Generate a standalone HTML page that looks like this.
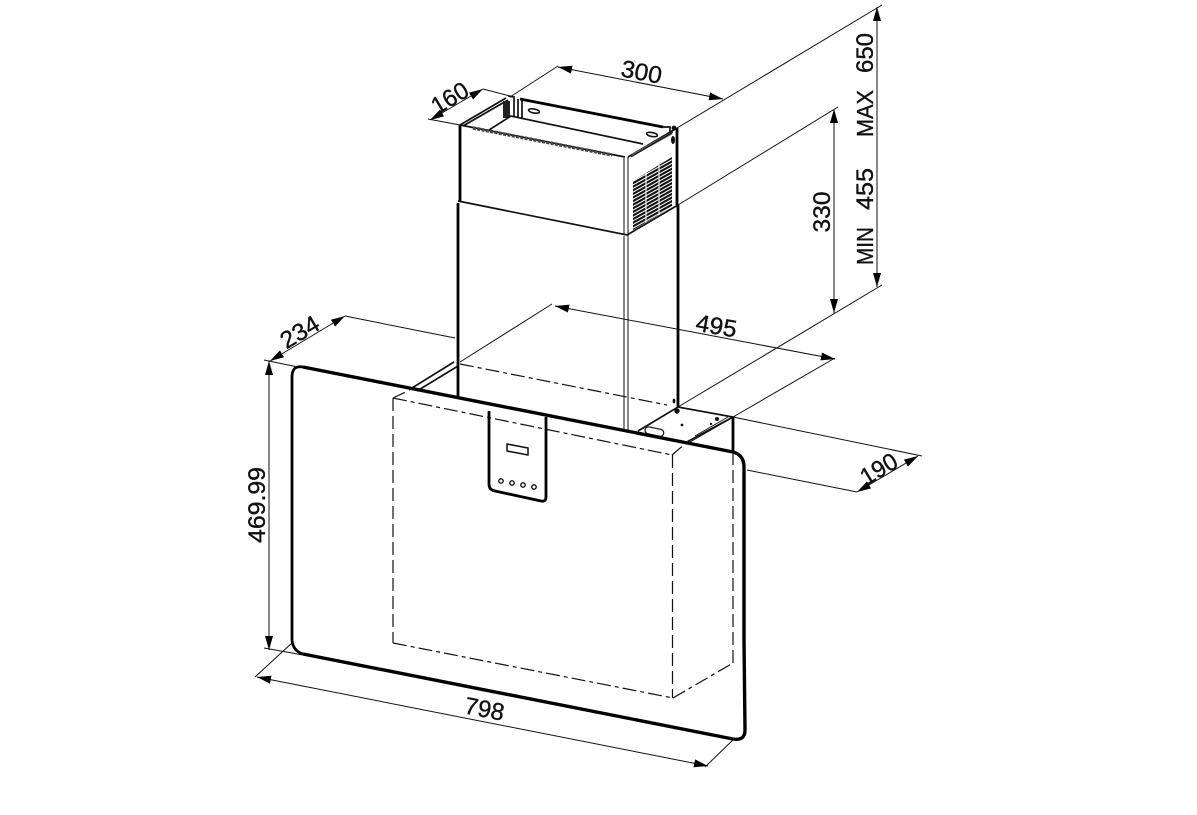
<!DOCTYPE html>
<html>
<head>
<meta charset="utf-8">
<style>
html,body{margin:0;padding:0;background:#fff;width:1197px;height:815px;overflow:hidden}
svg{display:block}
text{font-family:"Liberation Sans",sans-serif;font-size:24px;fill:#111;stroke:#111;stroke-width:.35;text-anchor:middle}
.t{stroke:#111;stroke-width:1;fill:none}
.m{stroke:#111;stroke-width:1.7;fill:none}
.b{stroke:#000;stroke-width:2.8;fill:none}
.k{stroke:#000;stroke-width:3.4;fill:none}
.d{stroke:#111;stroke-width:1.2;fill:none;stroke-dasharray:14 4 4 4}
.v{stroke:#111;stroke-width:1.2;fill:none;stroke-dasharray:13 5}
</style>
</head>
<body>
<svg width="1197" height="815" viewBox="0 0 1197 815" xmlns="http://www.w3.org/2000/svg">
<defs>
<marker id="a" viewBox="0 0 14 8" refX="14" refY="4" markerWidth="14" markerHeight="8" markerUnits="userSpaceOnUse" orient="auto-start-reverse"><path d="M0 0L14 4L0 8Z" fill="#000"/></marker>
<pattern id="h" width="40" height="3.6" patternUnits="userSpaceOnUse" patternTransform="skewY(-29)"><rect width="40" height="3.6" fill="#fff"/><rect width="40" height="2.4" fill="#111"/></pattern>
</defs>
<rect width="1197" height="815" fill="#fff"/>

<!-- upper chimney -->
<path class="b" d="M460 125V201"/>
<path class="m" d="M460 125L625 157"/>
<path class="m" d="M628 157L677 128"/>
<path class="b" d="M677 128V205"/>
<path class="t" d="M624 158V235M628 157V235"/>
<path class="m" d="M460 125L506 98M463 126L508 100"/>
<path class="m" d="M508 96L514 97V117"/>
<path d="M503 101H510V118H503Z" fill="#222"/>
<path class="b" d="M520 99L663 127"/>
<path class="m" d="M518 99V117M522 100V118"/>
<path class="m" d="M489 130L511 116L643 144"/>
<path stroke="#444" stroke-width="3.4" stroke-dasharray="3 1.4" fill="none" d="M473 128L612 155"/>
<path stroke="#555" stroke-width="2.6" fill="none" d="M632 155L672 133"/>
<path class="t" d="M631 157L673 132"/>
<path class="m" d="M663 127H670V133"/>
<circle cx="674" cy="128" r="2.4" fill="#111"/>
<ellipse cx="673" cy="140" rx="2" ry="4" fill="#111"/>
<ellipse cx="534" cy="111" rx="5.500" ry="2" transform="rotate(11 534 111)" fill="#fff" stroke="#111" stroke-width="1.600"/>
<ellipse cx="652" cy="134.500" rx="5.500" ry="2" transform="rotate(11 652 134.500)" fill="#fff" stroke="#111" stroke-width="1.600"/>
<path d="M633 181L672 157V207L633 230Z" fill="url(#h)"/>
<path stroke="#fff" stroke-width="1.100" fill="none" d="M646 172V223M659 165V215"/>

<!-- lower chimney -->
<path class="b" d="M458 203V398"/>
<path class="m" d="M458 201L627 235L678 205"/>
<path class="b" d="M678 205V408"/>
<path class="t" d="M624 236V430M628 235V431"/>

<!-- hidden dashed box -->
<path class="v" d="M393 398V643"/>
<path class="d" d="M393 398L672 455"/>
<path class="d" d="M393 643L673 698"/>
<path class="v" d="M672.500 455V698"/>
<path class="d" d="M673 698L733 663"/>
<path class="v" d="M733 452V663"/>
<path class="d" d="M460 364L667 405"/>
<path class="v" d="M393 398L410 390M672 455L686 443"/>

<!-- plate and brackets -->
<path class="m" d="M412 388L454 362M417 391L458 366"/>
<path class="m" d="M638 431L678 407L733 417L685 443"/>
<path class="t" d="M690 442L730 419M695 436L728 417"/>
<rect x="645" y="428" width="19" height="7" rx="3.500" transform="rotate(12 654 431)" fill="#fff" stroke="#111" stroke-width="1.200"/>
<circle cx="677" cy="411" r="2.700" fill="#111"/>
<ellipse cx="674" cy="401" rx="1.400" ry="2.400" fill="#111"/>
<circle cx="682" cy="425" r="1.400" fill="#111"/>
<circle cx="717" cy="419" r="2" fill="#111"/>
<circle cx="711" cy="424" r="1.200" fill="#111"/>
<path class="b" d="M733 417V452"/>

<!-- front panel -->
<path class="b" d="M292 640V377Q292 365 303 367"/>
<path class="k" d="M303 367L733 452Q744 455 744 467V640"/>
<path class="k" d="M744 640L745 730Q745 741 733 739"/>
<path class="k" d="M733 739L303 654"/>
<path class="b" d="M292 640Q293 651 303 654"/>

<!-- control box -->
<path class="b" d="M489 411V484Q489 490 495 491L541 501Q546 502 546 497V417"/>
<path fill="none" stroke="#111" stroke-width="1.500" d="M507 444L528 448V455L507 451Z"/>
<g fill="#fff" stroke="#111" stroke-width="1.400">
<circle cx="501" cy="481" r="2.200"/>
<circle cx="512" cy="483" r="2.200"/>
<circle cx="523" cy="485" r="2.200"/>
<circle cx="534" cy="487" r="2.200"/>
</g>

<!-- extension lines -->
<path class="t" d="M510 97L558 66M677 128L882 5M678 205L838 107M882 285L678 407M460 362L552 304M835 358L733 417M733 417L922 456M747 470L857 492"/>
<path class="t" d="M428 119L460 125M483 89L510 96M345 316L455 338M264 360L298 367M264 648L303 655M255 677L293 642M705 767L735 738"/>

<!-- dimension lines -->
<g fill="none" stroke="#111" stroke-width="1">
<line x1="558" y1="67" x2="723" y2="99" marker-start="url(#a)" marker-end="url(#a)"/>
<line x1="430" y1="120" x2="483" y2="89" marker-start="url(#a)" marker-end="url(#a)"/>
<line x1="877" y1="7" x2="877" y2="287" marker-start="url(#a)" marker-end="url(#a)"/>
<line x1="834" y1="109" x2="834" y2="313" marker-start="url(#a)" marker-end="url(#a)"/>
<line x1="555" y1="306" x2="835" y2="359" marker-start="url(#a)" marker-end="url(#a)"/>
<line x1="857" y1="492" x2="918" y2="456" marker-start="url(#a)" marker-end="url(#a)"/>
<line x1="270" y1="361" x2="345" y2="316" marker-start="url(#a)" marker-end="url(#a)"/>
<line x1="269" y1="361" x2="269" y2="650" marker-start="url(#a)" marker-end="url(#a)"/>
<line x1="257" y1="677" x2="708" y2="766" marker-start="url(#a)" marker-end="url(#a)"/>
</g>

<!-- labels -->
<text transform="translate(640 80) rotate(11)" textLength="41" lengthAdjust="spacingAndGlyphs">300</text>
<text transform="translate(454 105) rotate(-31)" textLength="39" lengthAdjust="spacingAndGlyphs">160</text>
<text transform="translate(304 339) rotate(-31)" textLength="41" lengthAdjust="spacingAndGlyphs">234</text>
<text transform="translate(715 334) rotate(10)" textLength="41" lengthAdjust="spacingAndGlyphs">495</text>
<text transform="translate(883 476) rotate(-31)" textLength="39" lengthAdjust="spacingAndGlyphs">190</text>
<text transform="translate(483 717) rotate(11)" textLength="40" lengthAdjust="spacingAndGlyphs">798</text>
<text transform="translate(830 212) rotate(-90)" textLength="41" lengthAdjust="spacingAndGlyphs">330</text>
<text transform="translate(265 505) rotate(-90)" textLength="76" lengthAdjust="spacingAndGlyphs">469.99</text>
<text transform="translate(873 53) rotate(-90)" textLength="40" lengthAdjust="spacingAndGlyphs">650</text>
<text transform="translate(873 113.500) rotate(-90)" textLength="47" lengthAdjust="spacingAndGlyphs" style="font-size:23px">MAX</text>
<text transform="translate(873 189) rotate(-90)" textLength="42" lengthAdjust="spacingAndGlyphs">455</text>
<text transform="translate(873 246) rotate(-90)" textLength="38" lengthAdjust="spacingAndGlyphs" style="font-size:23px">MIN</text>
</svg>
</body>
</html>
